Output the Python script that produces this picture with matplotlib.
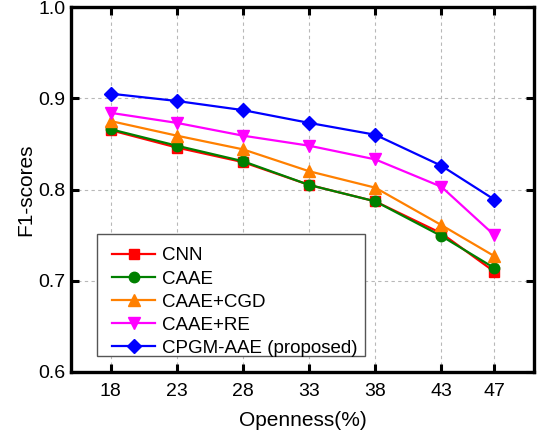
import matplotlib
matplotlib.use("Agg")
import matplotlib.pyplot as plt
from matplotlib.patches import Rectangle

plt.rcParams['font.family'] = ['Liberation Sans', 'DejaVu Sans']

openness = [18, 23, 28, 33, 38, 43, 47]
cnn = [0.865, 0.846, 0.830, 0.805, 0.787, 0.752, 0.710]
caae = [0.866, 0.848, 0.831, 0.805, 0.787, 0.749, 0.714]
caae_cgd = [0.875, 0.859, 0.844, 0.820, 0.802, 0.761, 0.727]
caae_re = [0.884, 0.873, 0.859, 0.848, 0.833, 0.803, 0.750]
cpgm = [0.905, 0.897, 0.887, 0.873, 0.860, 0.826, 0.789]

series = [
    ("CNN", cnn, "#FF0000", "s", 6.5),
    ("CAAE", caae, "#008000", "o", 7.5),
    ("CAAE+CGD", caae_cgd, "#FF8000", "^", 8.5),
    ("CAAE+RE", caae_re, "#FF00FF", "v", 8.5),
    ("CPGM-AAE (proposed)", cpgm, "#0000FF", "D", 7),
]

W, H = 539, 434
fig = plt.figure(figsize=(W/100, H/100), dpi=100)
ax_l, ax_r, ax_t, ax_b = 71, 534, 7, 372
aw, ah = ax_r - ax_l, ax_b - ax_t
ax = fig.add_axes([ax_l/W, (H-ax_b)/H, aw/W, ah/H])

for name, vals, c, m, ms in series:
    ax.plot(openness, vals, color=c, marker=m, markersize=ms, linewidth=1.6,
            label=name, markeredgecolor=c)

ax.set_xlim(15, 50)
ax.set_ylim(0.6, 1.0)
ax.set_xticks(openness)
ax.set_yticks([0.6, 0.7, 0.8, 0.9, 1.0])
ax.set_yticklabels(["0.6", "0.7", "0.8", "0.9", "1.0"])
ax.grid(True, color="#b8b8b8", linestyle=(0, (3, 3)), linewidth=0.8)
ax.set_axisbelow(True)
for sp in ax.spines.values():
    sp.set_linewidth(2.4)
    sp.set_zorder(6)
ax.tick_params(direction="in", length=6, width=2.2, top=True, right=True,
               labelsize=14)
ax.tick_params(axis="y", pad=4)
ax.tick_params(axis="x", pad=8)
ax.set_xlabel("Openness(%)", fontsize=15, labelpad=8)
ax.set_ylabel("F1-scores", fontsize=15, labelpad=2)

# legend frame (box 97..365 x 234..356 px)
bx0, bx1, by0, by1 = 97, 365, 234, 356
ax.add_patch(Rectangle(((bx0-ax_l)/aw, (ax_b-by1)/ah), (bx1-bx0)/aw, (by1-by0)/ah,
                       transform=ax.transAxes, facecolor="white",
                       edgecolor="#555555", linewidth=1.0, zorder=4))

leg = ax.legend(loc="lower left", bbox_to_anchor=((112-ax_l)/aw, (ax_b-357)/ah),
                fontsize=13.5, frameon=False,
                handlelength=2.3, borderpad=0, labelspacing=0.32,
                handletextpad=0.35, borderaxespad=0)
leg.set_zorder(5)

fig.savefig("out.png", dpi=100)
